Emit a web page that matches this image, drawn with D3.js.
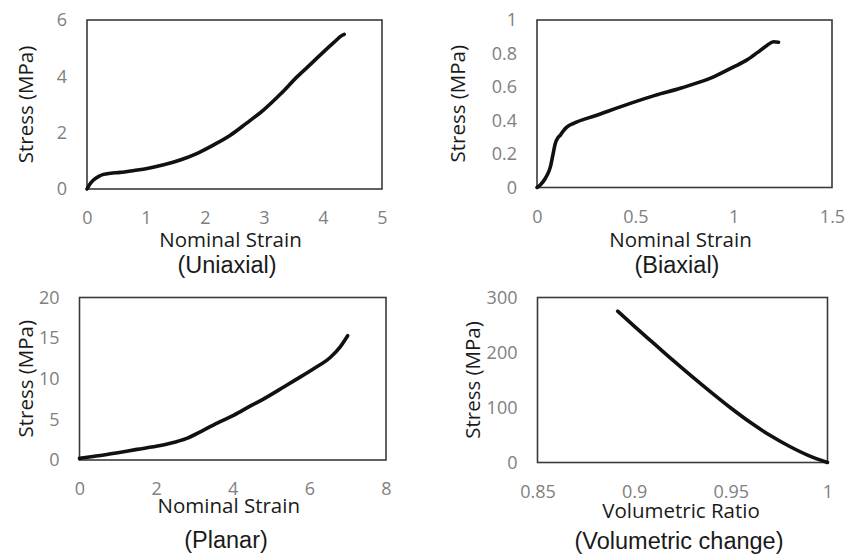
<!DOCTYPE html>
<html>
<head>
    <meta charset="UTF-8">
    <title>Stress curves</title>
    <style>
        body {
            margin: 0;
            overflow: hidden;
            background-color: #ffffff;
        }
    </style>
    <script src="https://cdn.jsdelivr.net/npm/d3@7"></script>
</head>
<body>
    <script>
        // data
        const uniaxial = [[0, 0], [0.05, 0.18], [0.11, 0.32], [0.2, 0.45], [0.28, 0.52], [0.4, 0.56],
            [0.56, 0.59], [0.8, 0.66], [1.02, 0.73], [1.3, 0.86], [1.58, 1.03], [1.85, 1.25],
            [2.14, 1.56], [2.43, 1.91], [2.7, 2.33], [2.99, 2.8], [3.28, 3.37], [3.56, 3.98],
            [3.8, 4.45], [4.01, 4.87], [4.2, 5.23], [4.32, 5.45], [4.36, 5.49]];
        const biaxial = [[0, 0], [0.02, 0.02], [0.042, 0.054], [0.058, 0.09], [0.068, 0.123], [0.08, 0.19],
            [0.093, 0.263], [0.105, 0.295], [0.119, 0.313], [0.135, 0.34], [0.153, 0.362],
            [0.186, 0.383], [0.3, 0.43], [0.474, 0.502], [0.6, 0.55], [0.729, 0.592], [0.779, 0.611],
            [0.898, 0.661], [1.0, 0.72], [1.068, 0.762], [1.12, 0.805], [1.169, 0.848],
            [1.203, 0.87], [1.228, 0.867]];
        const planar = [[0, 0.2], [0.3, 0.4], [0.63, 0.61], [1.0, 0.9], [1.5, 1.31], [2.0, 1.68],
            [2.37, 2.05], [2.8, 2.66], [3.24, 3.69], [3.67, 4.71], [4.02, 5.5], [4.5, 6.75],
            [4.8, 7.5], [5.33, 8.98], [5.67, 9.95], [6.1, 11.2], [6.55, 12.65], [6.8, 13.9], [7.0, 15.3]];
        const volumetric = [[0.8915, 275], [0.9, 248], [0.91, 217], [0.92, 186], [0.93, 156],
            [0.94, 127], [0.95, 99], [0.96, 73], [0.97, 50], [0.98, 30], [0.99, 13], [1, 0]];

        const uniXTicks = [0, 1, 2, 3, 4, 5];
        const uniYTicks = [0, 2, 4, 6];
        const biXTicks = [0, 0.5, 1, 1.5];
        const biYTicks = [0, 0.2, 0.4, 0.6, 0.8, 1];
        const plXTicks = [0, 2, 4, 6, 8];
        const plYTicks = [0, 5, 10, 15, 20];
        const volXTicks = [0.85, 0.9, 0.95, 1];
        const volYTicks = [0, 100, 200, 300];

        const width = 845;
        const height = 554;
        const svg = d3.select('body')
            .append('svg')
            .attr('width', width)
            .attr('height', height);

        const panels = [
            {data: uniaxial, xd: [0, 5], yd: [0, 6], xt: uniXTicks, yt: uniYTicks,
             box: [87, 382, 20, 189], xTitle: 'Nominal Strain', cap: '(Uniaxial)',
             yTitleX: 33, xTitleY: 246.5, capX: 227, capY: 273},
            {data: biaxial, xd: [0, 1.5], yd: [0, 1], xt: biXTicks, yt: biYTicks,
             box: [537, 832, 20, 187.5], xTitle: 'Nominal Strain', cap: '(Biaxial)',
             yTitleX: 465, xTitleY: 246.5, capX: 677, capY: 273},
            {data: planar, xd: [0, 8], yd: [0, 20], xt: plXTicks, yt: plYTicks,
             box: [79.5, 386, 297.5, 460], xTitle: 'Nominal Strain', cap: '(Planar)',
             yTitleX: 33, xTitleY: 513, capX: 226, capY: 548},
            {data: volumetric, xd: [0.85, 1], yd: [0, 300], xt: volXTicks, yt: volYTicks,
             box: [537.5, 827.5, 297.5, 462.5], xTitle: 'Volumetric Ratio', cap: '(Volumetric change)',
             yTitleX: 480, xTitleY: 518, capX: 679, capY: 549}
        ];

        const tickFont = '"Open Sans", sans-serif';

        panels.forEach(p => {
            const [x0, x1, y0, y1] = p.box;
            const x = d3.scaleLinear().domain(p.xd).range([x0, x1]);
            const y = d3.scaleLinear().domain(p.yd).range([y1, y0]);

            // y axis tick labels
            const ya = svg.append('g')
                .attr('transform', `translate(${x0}, 0)`)
                .call(d3.axisLeft(y).tickValues(p.yt).tickSize(0).tickPadding(20).tickFormat(d3.format('')));
            ya.select('.domain').remove();
            ya.selectAll('text')
                .style('font-family', tickFont)
                .style('font-size', '18px')
                .attr('fill', '#808080');

            // x axis tick labels
            const xa = svg.append('g')
                .attr('transform', `translate(0, ${y1})`)
                .call(d3.axisBottom(x).tickValues(p.xt).tickSize(0).tickFormat(d3.format('')));
            xa.select('.domain').remove();
            xa.selectAll('text')
                .attr('dy', null)
                .attr('y', 35)
                .style('font-family', tickFont)
                .style('font-size', '18px')
                .attr('fill', '#808080');

            // plot frame
            svg.append('rect')
                .attr('x', x0)
                .attr('y', y0)
                .attr('width', x1 - x0)
                .attr('height', y1 - y0)
                .attr('fill', 'none')
                .attr('stroke', '#3a3a3a')
                .attr('stroke-width', 1.6);

            // the curve
            const line = d3.line()
                .x(d => x(d[0]))
                .y(d => y(d[1]))
                .curve(d3.curveMonotoneX);
            svg.append('path')
                .datum(p.data)
                .attr('d', line)
                .attr('fill', 'none')
                .attr('stroke', '#111')
                .attr('stroke-width', 3.6)
                .attr('stroke-linecap', 'round')
                .attr('stroke-linejoin', 'round');

            // Y axis label
            svg.append('text')
                .attr('text-anchor', 'middle')
                .attr('transform', `translate(${p.yTitleX}, ${(y0 + y1) / 2}) rotate(-90)`)
                .style('font-family', tickFont)
                .style('font-size', '20.5px')
                .attr('fill', '#1a1a1a')
                .text('Stress (MPa)');

            // X axis label
            svg.append('text')
                .attr('text-anchor', 'middle')
                .attr('x', (x0 + x1) / 2 + (p.xTitle === 'Volumetric Ratio' ? -1.5 : -4))
                .attr('y', p.xTitleY)
                .style('font-family', tickFont)
                .style('font-size', '20.5px')
                .attr('fill', '#1a1a1a')
                .text(p.xTitle);

            // caption under each panel
            svg.append('text')
                .attr('text-anchor', 'middle')
                .attr('x', p.capX)
                .attr('y', p.capY)
                .style('font-family', '"Liberation Sans", Arial, sans-serif')
                .style('font-size', '23.5px')
                .attr('fill', '#1a1a1a')
                .text(p.cap);
        });
    </script>
</body>
</html>
